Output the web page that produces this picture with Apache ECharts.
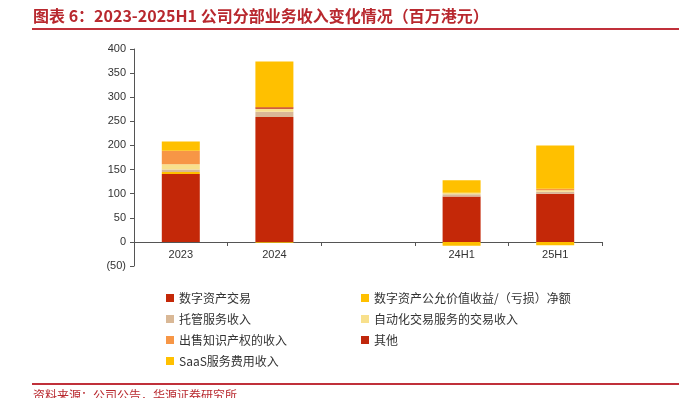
<!DOCTYPE html>
<html>
<head>
<meta charset="utf-8">
<script src="https://cdn.jsdelivr.net/npm/echarts@6/dist/echarts.min.js"></script>
<style>
  html, body { margin: 0; padding: 0; background: #fff; }
  #chart { width: 679px; height: 398px; }
</style>
</head>
<body>
<div id="chart"></div>
<script>
// 类别（中间留一个空位）
const categories = ["2023", "2024", "", "24H1", "25H1"];

// 各分部收入（百万港元）
const tradingRev = [141, 259, "-", 94, 100];     // 数字资产交易
const fairValue = [4, -2, "-", -8, -7];          // 数字资产公允价值收益/(亏损)净额
const custodyRev = [5, 11, "-", 5, 4];           // 托管服务收入
const autoTradeRev = [11, 6, "-", 3, 3];         // 自动化交易服务的交易收入
const ipSaleRev = [28, 0, "-", 0, 3];            // 出售知识产权的收入
const otherRev = [0, 3, "-", 0, 0];              // 其他
const saasRev = [19, 95, "-", 26, 90];           // SaaS服务费用收入

const chart = echarts.init(document.getElementById("chart"));

const mkBar = (name, data, color) => ({
  name: name,
  type: "bar",
  stack: "total",
  data: data,
  barWidth: 38,
  itemStyle: { color: color },
});

const option = {
  animation: false,
  textStyle: { fontFamily: "Liberation Sans, Noto Sans CJK SC" },
  graphic: [
    {
      type: "text",
      left: 33,
      top: 8,
      style: {
        text: "图表 6：2023-2025H1 公司分部业务收入变化情况（百万港元）",
        fill: "#B8282E",
        font: "bold 16px 'Noto Sans CJK SC'",
      },
    },
    {
      type: "rect",
      shape: { x: 32, y: 28, width: 647, height: 2 },
      style: { fill: "#C0303A" },
    },
    {
      type: "rect",
      shape: { x: 32, y: 383, width: 647, height: 2 },
      style: { fill: "#C0303A" },
    },
    {
      type: "text",
      left: 33,
      top: 389,
      style: {
        text: "资料来源：公司公告，华源证券研究所",
        fill: "#B8282E",
        font: "12px 'Noto Sans CJK SC'",
      },
    },
  ],
  grid: {
    left: 134,
    top: 49,
    width: 468,
    height: 217,
  },
  legend: [
    {
      orient: "vertical",
      left: 161,
      top: 287,
      itemWidth: 8,
      itemHeight: 8,
      itemGap: 9,
      icon: "rect",
      textStyle: { fontSize: 12, color: "#333", fontFamily: "Noto Sans CJK SC" },
      data: ["数字资产交易", "托管服务收入", "出售知识产权的收入", "SaaS服务费用收入"],
    },
    {
      orient: "vertical",
      left: 356,
      top: 287,
      itemWidth: 8,
      itemHeight: 8,
      itemGap: 9,
      icon: "rect",
      textStyle: { fontSize: 12, color: "#333", fontFamily: "Noto Sans CJK SC" },
      data: ["数字资产公允价值收益/（亏损）净额", "自动化交易服务的交易收入", "其他"],
    },
  ],
  xAxis: {
    type: "category",
    data: categories,
    position: "bottom",
    offset: -24,
    axisLine: { onZero: false, lineStyle: { color: "#555" } },
    axisTick: { show: true, alignWithLabel: false, length: 4, lineStyle: { color: "#555" } },
    axisLabel: { color: "#333", fontSize: 11, margin: 7 },
  },
  yAxis: {
    type: "value",
    min: -50,
    max: 400,
    interval: 50,
    splitLine: { show: false },
    axisLine: { show: true, lineStyle: { color: "#555" } },
    axisTick: { show: true, length: 4, lineStyle: { color: "#555" } },
    axisLabel: {
      color: "#333",
      fontSize: 11,
      margin: 8,
      formatter: (v) => (v < 0 ? "(" + -v + ")" : v),
    },
  },
  series: [
    mkBar("数字资产交易", tradingRev, "#C42808"),
    mkBar("数字资产公允价值收益/（亏损）净额", fairValue, "#FFC000"),
    mkBar("托管服务收入", custodyRev, "#D9B896"),
    mkBar("自动化交易服务的交易收入", autoTradeRev, "#F8E08C"),
    mkBar("出售知识产权的收入", ipSaleRev, "#F79646"),
    mkBar("其他", otherRev, "#C0280C"),
    mkBar("SaaS服务费用收入", saasRev, "#FFC000"),
  ],
};

chart.setOption(option);
</script>
</body>
</html>
